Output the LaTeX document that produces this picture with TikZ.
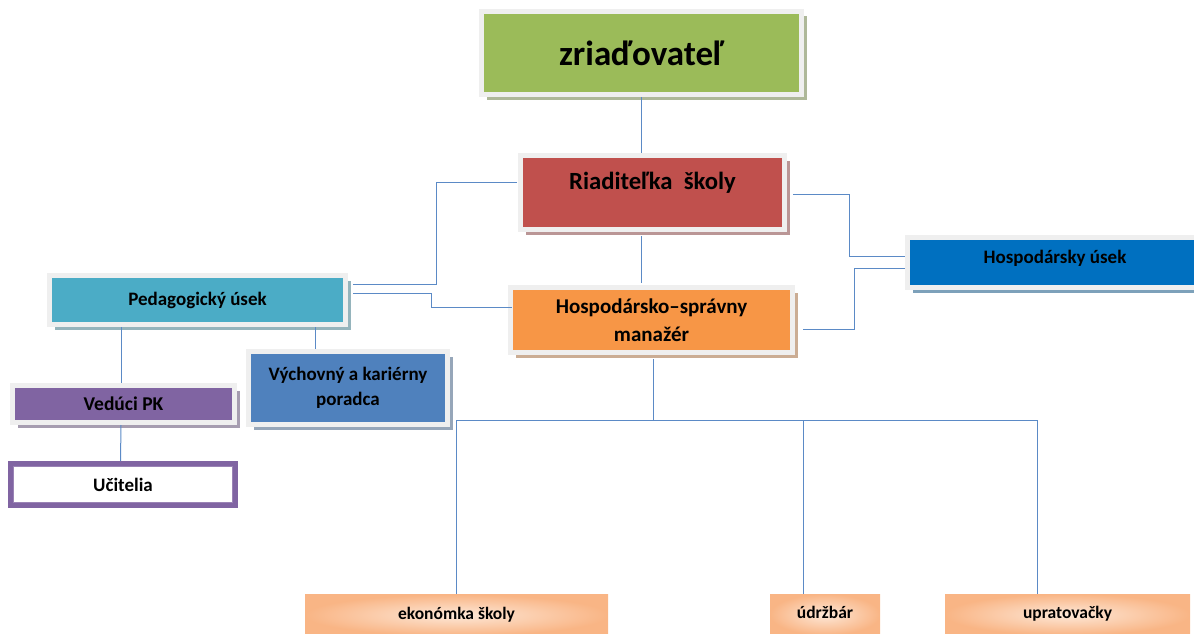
\documentclass[tikz,border=0pt]{standalone}
\usepackage{fontspec}
\setmainfont{Carlito}
\usetikzlibrary{shadows,calc}
\definecolor{cgreen}{HTML}{9BBB59}
\definecolor{cred}{HTML}{C0504D}
\definecolor{corange}{HTML}{F79646}
\definecolor{cteal}{HTML}{4BACC6}
\definecolor{cpurple}{HTML}{8064A2}
\definecolor{cblue}{HTML}{4F81BD}
\definecolor{cdblue}{HTML}{0070C0}
\definecolor{cframe}{HTML}{EFEFEF}
\definecolor{cline}{HTML}{5B8AC6}
\definecolor{cpeach}{HTML}{FDE8D8}
\definecolor{cpeachd}{HTML}{F9B585}
\tikzset{
  obox/.style={draw=cframe, line width=5pt, fill=#1, text=black,
    font=\bfseries, align=center, inner sep=0pt,
    drop shadow={shadow xshift=5pt, shadow yshift=-5pt, fill=#1!45!gray, opacity=0.7}},
  pbox/.style={fill=cpeachd, inner sep=0pt, text=black,
    font=\bfseries\fontsize{17.5}{22}\selectfont,
    text height=12pt, text depth=4pt, minimum height=41pt,
    shading=radial, inner color=cpeach, outer color=cpeachd},
  conn/.style={draw=cline, line width=1pt},
}
\begin{document}
\begin{tikzpicture}[x=1pt,y=-1pt]
\useasboundingbox (0,0) rectangle (1194,634);
% boxes
\node[obox=cgreen, minimum width=320pt, minimum height=83pt, font=\bfseries\fontsize{35}{38}\selectfont] (zr) at (641.5,53) {zriaďovateľ};
\node[obox=cred, minimum width=264pt, minimum height=74pt, font=\bfseries\fontsize{24.7}{22}\selectfont] (ri) at (652.5,192.5) {Riaditeľka\ \ školy\\[-6pt]\strut};
\node[obox=corange, minimum width=282pt, minimum height=65pt, font=\bfseries\fontsize{21}{28}\selectfont] (hs) at (651.5,320) {Hospodársko–správny\\manažér};
\node[obox=cteal, minimum width=296pt, minimum height=49pt, font=\bfseries\fontsize{19}{22}\selectfont] (pu) at (197.5,300) {Pedagogický úsek};
\node[obox=cpurple, minimum width=222pt, minimum height=37pt, font=\bfseries\fontsize{19.5}{22}\selectfont] (vp) at (123.5,404) {Vedúci PK};
\node[obox=cblue, minimum width=199pt, minimum height=73pt, font=\bfseries\fontsize{19}{25}\selectfont] (vk) at (348,388) {Výchovný a kariérny\\poradca};
\node[obox=cdblue, minimum width=295pt, minimum height=50pt, font=\bfseries\fontsize{19}{22}\selectfont] (hu) at (1055,262.5) {Hospodársky úsek\\[-18pt]\strut};
% Ucitelia
\node[draw=cpurple, line width=5pt, fill=white, minimum width=225pt, minimum height=42pt, inner sep=0pt, font=\bfseries\fontsize{19}{22}\selectfont] (uc) at (123,484.5) {Učitelia};
\draw[cpurple!80, line width=0.8pt] ([xshift=5.5pt,yshift=-5.5pt]uc.north west) rectangle ([xshift=-5.5pt,yshift=5.5pt]uc.south east);
% bottom boxes
\node[pbox, minimum width=303pt] (ek) at (456.5,615) {ekonómka školy};
\node[pbox, minimum width=110pt] (ud) at (825,614.5) {údržbár};
\node[pbox, minimum width=245pt] (up) at (1067.5,614.5) {upratovačky};
% connectors
\draw[conn] (zr.south) -- (zr.south |- ri.north);
\draw[conn] ([yshift=-4pt]zr.south |- ri.south) -- ([yshift=2pt]zr.south |- hs.north);
\draw[conn] ([xshift=-1pt,yshift=10.5pt]ri.west) -- ++(-81,0) |- ([xshift=5pt,yshift=16pt]pu.east);
\draw[conn] ([xshift=5pt,yshift=7pt]pu.east) -- ++(78,0) |- ([xshift=4pt,yshift=13pt]hs.west);
\draw[conn] ([xshift=6pt,yshift=-1.5pt]ri.east) -- ++(56,0) |- ([yshift=6.5pt]hu.west);
\draw[conn] ([xshift=8pt,yshift=-9pt]hs.east) -- ++(51,0) |- ([yshift=-5.5pt]hu.west);
\draw[conn] ([xshift=-2.5pt]vp.north |- pu.south) -- ([xshift=-2.5pt]vp.north);
\draw[conn] ([xshift=-33pt]vk.north |- pu.south) -- ([xshift=-33pt]vk.north);
\draw[conn] ([xshift=-2.5pt]vp.south) -- ([xshift=-2.5pt]uc.north);
\coordinate (bus) at ([yshift=-65pt,xshift=1.5pt]hs.south);
\draw[conn] ([xshift=1.5pt,yshift=-4pt]hs.south) -- (bus);
\draw[conn] (ek.north |- bus) -- ([xshift=-30.5pt]up.north |- bus);
\draw[conn] (ek.north |- bus) -- (ek.north);
\draw[conn] ([xshift=-22pt]ud.north |- bus) -- ([xshift=-22pt]ud.north);
\draw[conn] ([xshift=-30.5pt]up.north |- bus) -- ([xshift=-30.5pt]up.north);
\end{tikzpicture}
\end{document}
